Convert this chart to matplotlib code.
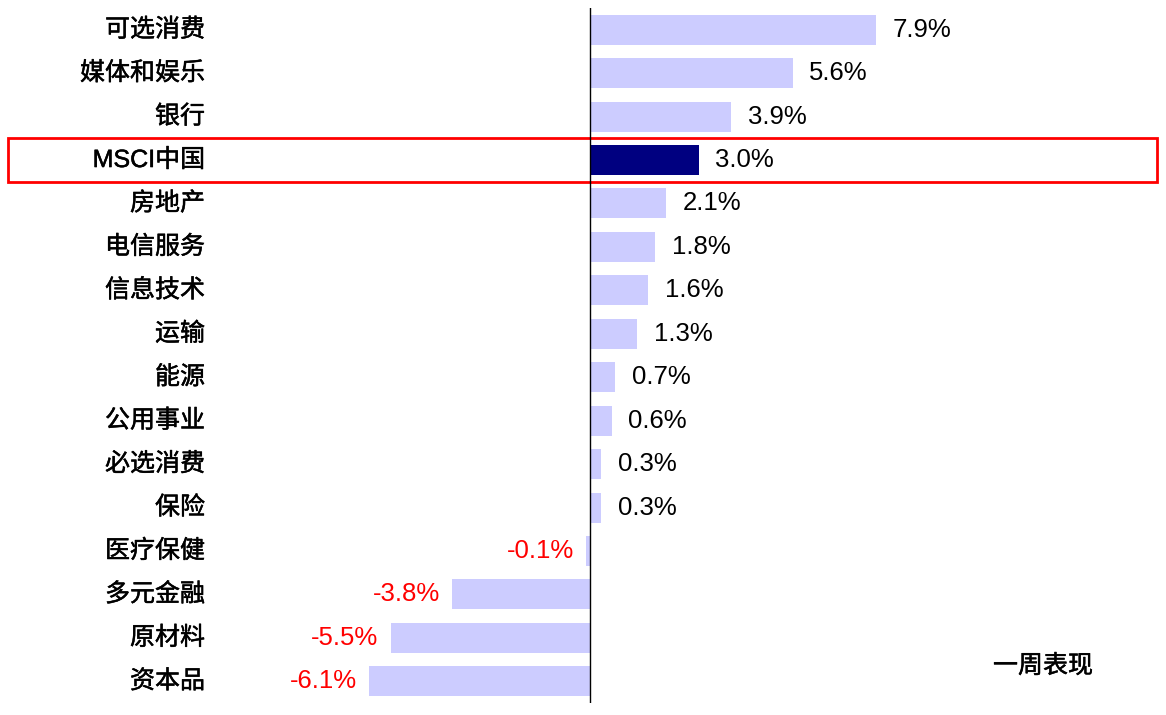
import matplotlib.pyplot as plt
import matplotlib.patheffects as pe
from matplotlib.patches import Rectangle
from matplotlib.transforms import blended_transform_factory

plt.rcParams['font.family'] = ['Liberation Sans', 'Noto Sans CJK SC', 'DejaVu Sans']

# 数据
categories = ['可选消费', '媒体和娱乐', '银行', 'MSCI中国', '房地产', '电信服务', '信息技术', '运输',
              '能源', '公用事业', '必选消费', '保险', '医疗保健', '多元金融', '原材料', '资本品']
values = [7.9, 5.6, 3.9, 3.0, 2.1, 1.8, 1.6, 1.3, 0.7, 0.6, 0.3, 0.3, -0.1, -3.8, -5.5, -6.1]
highlight = 'MSCI中国'

fig = plt.figure(figsize=(11.66, 7.15), dpi=100)
ax = fig.add_axes([233 / 1166, 1 - 703 / 715, 1 - 233 / 1166, 695 / 715])

ypos = list(range(len(categories)))
colors = ['#000080' if c == highlight else '#CCCCFF' for c in categories]
ax.barh(ypos, values, height=0.69, color=colors)

ax.set_xlim(-(590 - 233) / 36.2, (1166 - 590) / 36.2)
ax.set_ylim(len(categories) - 0.5, -0.5)
ax.axvline(0, color='black', linewidth=1)

for s in ax.spines.values():
    s.set_visible(False)
ax.set_xticks([])
ax.set_yticks([])

# 中等粗细的中文字
semi = [pe.withStroke(linewidth=0.35, foreground='black')]

# 分类标签
for y, c in zip(ypos, categories):
    ax.text(205 / 1166, y, c, transform=blended_transform_factory(fig.transFigure, ax.transData),
            ha='right', va='center', fontsize=18, path_effects=semi,
            family=['Liberation Sans', 'Noto Sans CJK SC'])

# 数值标签
for y, v in zip(ypos, values):
    if v >= 0:
        ax.annotate(f'{v:.1f}%', (v, y), xytext=(12, 0), textcoords='offset points',
                    ha='left', va='center', fontsize=18.5, color='black')
    else:
        ax.annotate(f'{v:.1f}%', (v, y), xytext=(-9, 0), textcoords='offset points',
                    ha='right', va='center', fontsize=18.5, color='red')

# 高亮框
idx = categories.index(highlight)
rect = Rectangle((8 / 1166, idx - 0.5), (1157 - 8) / 1166, 1.0,
                 transform=blended_transform_factory(fig.transFigure, ax.transData),
                 fill=False, edgecolor='red', linewidth=2, clip_on=False)
ax.add_patch(rect)

fig.text(1093 / 1166, 1 - 666 / 715, '一周表现', ha='right', va='center', fontsize=18,
         path_effects=semi, family=['Noto Sans CJK SC'])

plt.savefig('out.png', dpi=100)
